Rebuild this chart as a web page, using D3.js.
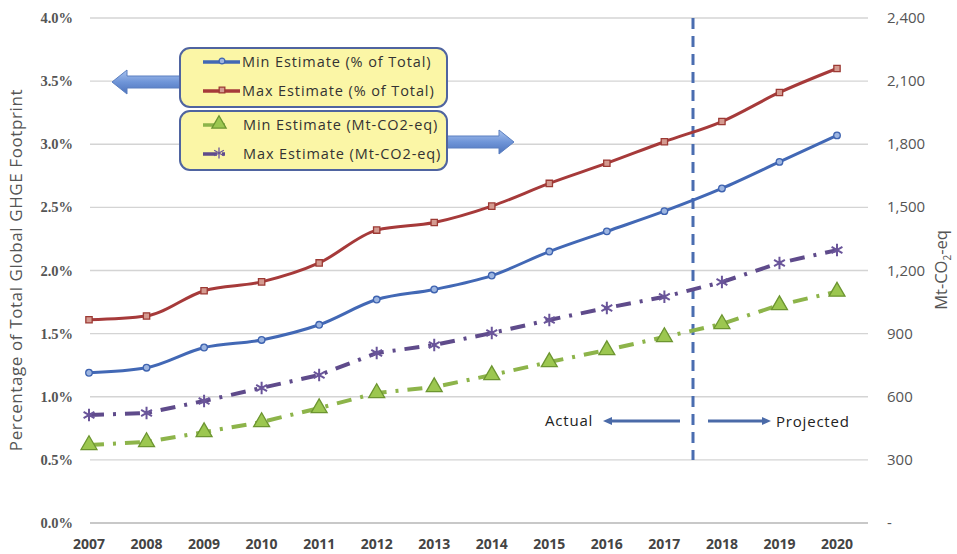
<!DOCTYPE html>
<html>
<head>
<meta charset="utf-8">
<script src="https://cdn.jsdelivr.net/npm/d3@7"></script>
<style>
  body { margin: 0; background: #fff; }
  .left-tick { font-family: 'Liberation Serif', serif; font-weight: bold; font-size: 14.5px; fill: #555; }
  .right-tick { font-family: 'Open Sans', sans-serif; font-size: 15px; fill: #555; }
  .year { font-family: 'Open Sans', sans-serif; font-weight: bold; font-size: 14px; fill: #444; }
  .axis-title { font-family: 'Open Sans', sans-serif; font-size: 16.5px; fill: #555; }
  .legend-text { font-family: 'Open Sans', sans-serif; font-size: 14.5px; letter-spacing: 0.9px; fill: #333; }
  .note { font-family: 'Open Sans', sans-serif; font-size: 15px; letter-spacing: 0.8px; fill: #222; }
</style>
</head>
<body>
<svg id="chart" width="957" height="554"></svg>
<script>
const years = [2007, 2008, 2009, 2010, 2011, 2012, 2013, 2014, 2015, 2016, 2017, 2018, 2019, 2020];
// % of total global GHGE footprint
const minPct = [1.19, 1.23, 1.39, 1.45, 1.57, 1.77, 1.85, 1.96, 2.15, 2.31, 2.47, 2.65, 2.86, 3.07];
const maxPct = [1.61, 1.64, 1.84, 1.91, 2.06, 2.32, 2.38, 2.51, 2.69, 2.85, 3.02, 3.18, 3.41, 3.60];
// Mt-CO2-eq
const minMt = [371, 385, 432, 480, 546, 618, 646, 703, 765, 822, 884, 946, 1036, 1100];
const maxMt = [513, 523, 580, 642, 703, 808, 846, 903, 965, 1022, 1075, 1145, 1236, 1297];
const leftTicks = [0, 0.5, 1.0, 1.5, 2.0, 2.5, 3.0, 3.5, 4.0];
const rightTicks = [0, 300, 600, 900, 1200, 1500, 1800, 2100, 2400];
const legendLabels = [
  'Min Estimate (% of Total)',
  'Max Estimate (% of Total)',
  'Min Estimate (Mt-CO2-eq)',
  'Max Estimate (Mt-CO2-eq)',
];

const svg = d3.select('#chart');

const xScale = d3.scalePoint().domain(years).range([89, 837]);
const yLeft = d3.scaleLinear().domain([0, 4]).range([523, 18]);
const yRight = d3.scaleLinear().domain([0, 2400]).range([523, 18]);

const defs = svg.append('defs');
const grad = defs.append('linearGradient').attr('id', 'arrowGrad')
  .attr('x1', 0).attr('y1', 0).attr('x2', 0).attr('y2', 1);
grad.append('stop').attr('offset', '0%').attr('stop-color', '#a9c3ee');
grad.append('stop').attr('offset', '50%').attr('stop-color', '#6f95d8');
grad.append('stop').attr('offset', '100%').attr('stop-color', '#4d73bb');

// Gridlines
svg.append('g')
  .selectAll('line')
  .data(leftTicks)
  .join('line')
  .attr('x1', 90)
  .attr('x2', 868)
  .attr('y1', (d) => yLeft(d))
  .attr('y2', (d) => yLeft(d))
  .attr('stroke', (d) => (d === 0 ? '#c8c8c8' : '#d4d4d4'))
  .attr('stroke-width', (d) => (d === 0 ? 2 : 1.3));

// Left axis labels
svg.append('g')
  .selectAll('text')
  .data(leftTicks)
  .join('text')
  .attr('class', 'left-tick')
  .attr('x', 73)
  .attr('y', (d) => yLeft(d) + 5)
  .attr('text-anchor', 'end')
  .text((d) => d.toFixed(1) + '%');

// Right axis labels
svg.append('g')
  .selectAll('text')
  .data(rightTicks)
  .join('text')
  .attr('class', 'right-tick')
  .attr('x', 887)
  .attr('y', (d) => yRight(d) + 5)
  .text((d) => (d === 0 ? '-' : d3.format(',')(d)));

// Year labels
svg.append('g')
  .selectAll('text')
  .data(years)
  .join('text')
  .attr('class', 'year')
  .attr('x', (d) => xScale(d))
  .attr('y', 549)
  .attr('text-anchor', 'middle')
  .text((d) => d);

// Axis titles
svg.append('text')
  .attr('class', 'axis-title')
  .attr('transform', 'translate(22, 270) rotate(-90)')
  .attr('text-anchor', 'middle')
  .style('font-size', '17px')
  .style('letter-spacing', '0.6px')
  .text('Percentage of Total Global GHGE Footprint');

const rt = svg.append('text')
  .attr('class', 'axis-title')
  .attr('transform', 'translate(947, 270) rotate(-90)')
  .attr('text-anchor', 'middle');
rt.append('tspan').text('Mt-CO');
rt.append('tspan').attr('font-size', '10px').attr('dy', 4).text('2');
rt.append('tspan').attr('dy', -4).text('-eq');

// Vertical divider (actual vs projected)
svg.append('line')
  .attr('x1', 693).attr('x2', 693)
  .attr('y1', 18).attr('y2', yRight(300))
  .attr('stroke', '#4a6db0')
  .attr('stroke-width', 3)
  .attr('stroke-dasharray', '11,7');

// Series
const series = [
  { values: minPct, scale: yLeft, color: '#4268b5', width: 3, dash: null, symbol: d3.symbolCircle, size: 34, fill: '#9db5e0', stroke: '#3e63b0' },
  { values: maxPct, scale: yLeft, color: '#a63a3a', width: 3, dash: null, symbol: d3.symbolSquare, size: 40, fill: '#d49a90', stroke: '#9c3a34' },
  { values: minMt, scale: yRight, color: '#8db44a', width: 4, dash: '15,9,3,9', symbol: d3.symbolTriangle, size: 110, fill: '#9cc750', stroke: '#6c9530' },
  { values: maxMt, scale: yRight, color: '#5f4b8b', width: 4, dash: '15,9,3,9', symbol: d3.symbolAsterisk, size: 110, fill: 'none', stroke: '#6a559a' },
];

series.forEach((s) => {
  const line = d3.line()
    .x((d, i) => xScale(years[i]))
    .y((d) => s.scale(d))
    .curve(s.dash ? d3.curveLinear : d3.curveMonotoneX);
  svg.append('path')
    .datum(s.values)
    .attr('fill', 'none')
    .attr('stroke', s.color)
    .attr('stroke-width', s.width)
    .attr('stroke-dasharray', s.dash)
    .attr('d', line);
  svg.append('g')
    .selectAll('path')
    .data(s.values)
    .join('path')
    .attr('transform', (d, i) => 'translate(' + xScale(years[i]) + ',' + s.scale(d) + ')')
    .attr('d', d3.symbol().type(s.symbol).size(s.size))
    .attr('fill', s.fill)
    .attr('stroke', s.stroke)
    .attr('stroke-width', s.symbol === d3.symbolAsterisk ? 2 : 1.3);
});

// Actual / Projected notes
svg.append('text').attr('class', 'note').attr('x', 545).attr('y', 426).text('Actual');
svg.append('text').attr('class', 'note').attr('x', 776).attr('y', 427).text('Projected');
function thinArrow(x1, x2, y) {
  const dir = Math.sign(x2 - x1);
  svg.append('line')
    .attr('x1', x1).attr('x2', x2 - dir * 6)
    .attr('y1', y).attr('y2', y)
    .attr('stroke', '#4a6aa8').attr('stroke-width', 3);
  svg.append('path')
    .attr('d', 'M' + x2 + ',' + y + 'L' + (x2 - dir * 9) + ',' + (y - 4) + 'L' + (x2 - dir * 9) + ',' + (y + 4) + 'Z')
    .attr('fill', '#4a6aa8');
}
thinArrow(680, 603, 421);
thinArrow(708, 771, 421);

// Block arrows pointing to the axes
function blockArrow(xBase, xTip, y) {
  const dir = Math.sign(xTip - xBase);
  const neck = xTip - dir * 15;
  const d = 'M' + xBase + ',' + (y - 6) + 'L' + neck + ',' + (y - 6) + 'L' + neck + ',' + (y - 12) +
    'L' + xTip + ',' + y + 'L' + neck + ',' + (y + 12) + 'L' + neck + ',' + (y + 6) + 'L' + xBase + ',' + (y + 6) + 'Z';
  svg.append('path')
    .attr('d', d)
    .attr('fill', 'url(#arrowGrad)')
    .attr('stroke', '#5b7fc0')
    .attr('stroke-width', 1);
}
blockArrow(182, 112, 82);
blockArrow(446, 514, 142);

// Legend boxes
const boxes = [
  { y: 48, items: [0, 1] },
  { y: 111, items: [2, 3] },
];
boxes.forEach((b) => {
  svg.append('rect')
    .attr('x', 180).attr('y', b.y)
    .attr('width', 267).attr('height', 59)
    .attr('rx', 10)
    .attr('fill', '#fbf6a6')
    .attr('stroke', '#4f64a0')
    .attr('stroke-width', 2);
  b.items.forEach((k, j) => {
    const s = series[k];
    const ly = b.y + 14 + j * 29;
    svg.append('line')
      .attr('x1', 203).attr('x2', 240)
      .attr('y1', ly).attr('y2', ly)
      .attr('stroke', s.color).attr('stroke-width', 3.5)
      .attr('stroke-dasharray', s.dash ? '14,5,3,20' : null);
    svg.append('path')
      .attr('transform', 'translate(' + (s.dash ? 219 : 222) + ',' + (ly - 1) + ')')
      .attr('d', d3.symbol().type(s.symbol).size(s.size * 0.8))
      .attr('fill', s.fill)
      .attr('stroke', s.stroke)
      .attr('stroke-width', 1.3);
    svg.append('text')
      .attr('class', 'legend-text')
      .attr('x', s.dash ? 243 : 242)
      .attr('y', ly + 5)
      .text(legendLabels[k]);
  });
});
</script>
</body>
</html>
